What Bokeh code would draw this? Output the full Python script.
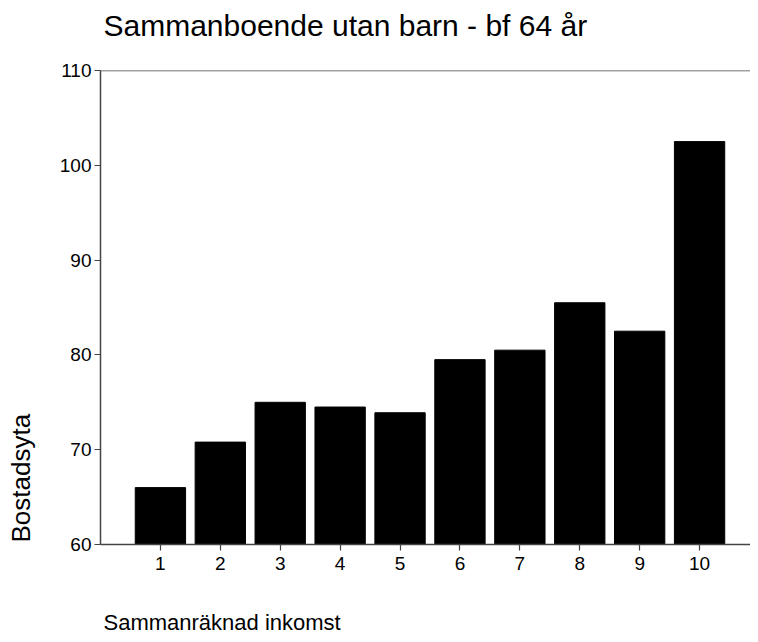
import math
from bokeh.plotting import figure
from bokeh.models import Range1d, FixedTicker, Span, ColumnDataSource, Title
from bokeh.embed import file_html
from bokeh.resources import INLINE

# Data
inkomst = [1, 2, 3, 4, 5, 6, 7, 8, 9, 10]
bostadsyta = [66.0, 70.8, 75.0, 74.5, 73.9, 79.5, 80.5, 85.5, 82.5, 102.5]
y_ticks = [60, 70, 80, 90, 100, 110]
title_text = "Sammanboende utan barn - bf 64 år"
x_label = "Sammanräknad inkomst"
y_label = "Bostadsyta"

FONT = "Liberation Sans"

p = figure(width=750, height=634, output_backend="svg", toolbar_location=None,
           x_range=Range1d(0.0, 10.85), y_range=Range1d(60, 110),
           min_border_left=100, min_border_right=0, min_border_top=70, min_border_bottom=89)
p.outline_line_color = None
p.xgrid.grid_line_color = None
p.ygrid.grid_line_color = None
p.background_fill_color = "white"
p.border_fill_color = "white"

src = ColumnDataSource(dict(x=inkomst, top=bostadsyta))
p.vbar(x="x", top="top", bottom=60, width=0.84, source=src,
       fill_color="black", line_color="black")

for ax in (p.xaxis[0], p.yaxis[0]):
    ax.axis_line_color = "#444444"
    ax.axis_line_width = 1.5
    ax.major_tick_line_color = "#444444"
    ax.major_tick_line_width = 1.2
    ax.major_tick_out = 6
    ax.major_tick_in = 0
    ax.minor_tick_line_color = None
    ax.major_label_text_font = FONT
    ax.major_label_text_font_size = "19px"
    ax.major_label_text_color = "black"

p.xaxis.ticker = FixedTicker(ticks=inkomst)
p.xaxis.major_label_standoff = 6
p.yaxis.ticker = FixedTicker(ticks=y_ticks)
p.yaxis.major_label_standoff = 3

p.add_layout(Span(location=110, dimension="width", line_color="#444444", line_width=1.5))

p.title.text = title_text
p.title.align = "left"
p.title.offset = 3
p.title.text_font = FONT
p.title.text_font_size = "30px"
p.title.text_font_style = "normal"
p.title.text_color = "black"
p.title.standoff = 0

# spacer between frame and title
p.add_layout(Title(text=" ", text_font_size="10px", standoff=16), "above")
# spacer below axis, then x label
p.add_layout(Title(text=" ", text_font_size="10px", standoff=22), "below")
p.add_layout(Title(text=x_label, align="left", offset=3, standoff=0,
                   text_font=FONT, text_font_size="22px", text_font_style="normal",
                   text_color="black"), "below")
# spacer left of axis, then y label
p.add_layout(Title(text=" ", text_font_size="14px", standoff=3), "left")
p.add_layout(Title(text=y_label, align="left", offset=2, standoff=0,
                   text_font=FONT, text_font_size="26px", text_font_style="normal",
                   text_color="black"), "left")

open("out.html", "w").write(file_html(p, INLINE))
